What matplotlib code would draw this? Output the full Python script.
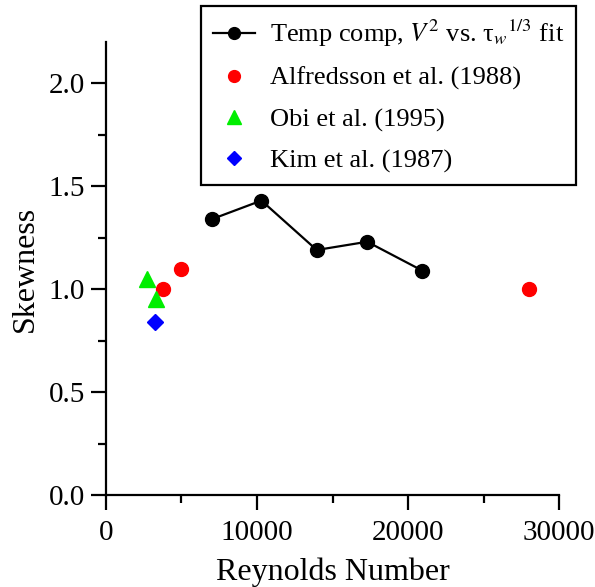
import matplotlib
matplotlib.use("Agg")
import matplotlib.pyplot as plt
from matplotlib.ticker import MultipleLocator

plt.rcParams['font.family'] = ['Liberation Serif', 'DejaVu Serif']
plt.rcParams['mathtext.fontset'] = 'stix'

# temperature-compensated fit results
re_fit = [7020, 10290, 13950, 17290, 20930]
skew_fit = [1.34, 1.43, 1.19, 1.23, 1.09]

# literature values
re_alfredsson = [3800, 4970, 28000]
skew_alfredsson = [1.00, 1.10, 1.00]

re_obi = [2740, 3330]
skew_obi = [1.05, 0.95]

re_kim = [3270]
skew_kim = [0.84]

fig = plt.figure(figsize=(5.95, 5.87), dpi=100)
ax = fig.add_axes([0.178, 0.1567, 0.762, 0.7717])

ax.plot(re_fit, skew_fit, '-o', color='black', lw=1.6, ms=10,
        mfc='black', mec='black', label=r'Temp comp, $V^2$ vs. τ$_w{}^{1/3}$ fit')
ax.plot(re_alfredsson, skew_alfredsson, 'o', color='red', ms=10,
        mec='red', ls='none', label='Alfredsson et al. (1988)')
ax.plot(re_obi, skew_obi, '^', color='#00ee00', ms=12,
        ls='none', label='Obi et al. (1995)')
ax.plot(re_kim, skew_kim, 'D', color='#0000ff', ms=8,
        ls='none', label='Kim et al. (1987)')

ax.set_xlim(0, 30000)
ax.set_ylim(0, 2.2)
ax.xaxis.set_major_locator(MultipleLocator(10000))
ax.xaxis.set_minor_locator(MultipleLocator(5000))
ax.yaxis.set_major_locator(MultipleLocator(0.5))
ax.yaxis.set_minor_locator(MultipleLocator(0.25))

for side in ['top', 'right']:
    ax.spines[side].set_visible(False)
for side in ['left', 'bottom']:
    ax.spines[side].set_linewidth(1.6)

ax.tick_params(which='major', direction='out', length=11, width=1.6,
               labelsize=21, pad=4)
ax.tick_params(axis='x', which='major', pad=7)
ax.tick_params(which='minor', direction='out', length=6, width=1.6)
ax.set_yticks([0, 0.5, 1.0, 1.5, 2.0])
ax.set_yticklabels(['0.0', '0.5', '1.0', '1.5', '2.0'])

ax.set_xlabel('Reynolds Number', fontsize=23, labelpad=8)
ax.set_ylabel('Skewness', fontsize=23, labelpad=6)

leg = ax.legend(loc='upper right', bbox_to_anchor=(576 / 595, 1 - 6 / 587),
                bbox_transform=fig.transFigure, borderaxespad=0,
                fontsize=19, markerscale=0.85, fancybox=False,
                edgecolor='black', framealpha=1, handlelength=1.6,
                labelspacing=0.66, borderpad=0.45, handletextpad=0.55)
leg.get_frame().set_linewidth(1.6)

fig.savefig('out.png', dpi=100)
